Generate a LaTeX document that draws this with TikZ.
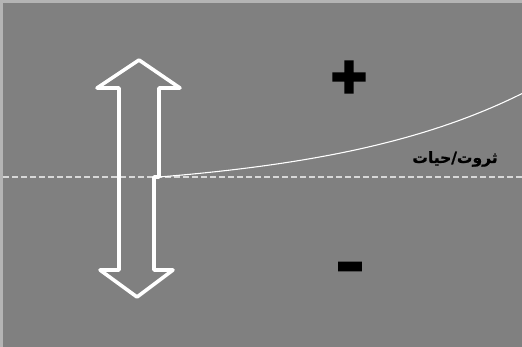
\documentclass[tikz,border=0pt]{standalone}
\usepackage{fontspec}
\newfontfamily\arabicfont[Script=Arabic,FakeBold=1]{DejaVu Sans}
\newfontfamily\plusfont[FakeBold=8]{DejaVu Sans}
\newfontfamily\minusfont[FakeBold=6]{DejaVu Sans}
\TeXXeTstate=1
\definecolor{panel}{HTML}{808080}
\definecolor{rim}{HTML}{B4B4B4}
\definecolor{dashline}{HTML}{D8D8D8}
\begin{document}
\begin{tikzpicture}[x=1pt,y=-1pt,
  arrowoutline/.style={draw=white,line width=3.6pt,line join=round},
  baseline/.style={draw=dashline,line width=1.1pt,dash pattern=on 6pt off 3pt},
  growth/.style={draw=white,line width=1.1pt},
  sign/.style={text=black,inner sep=0pt},
  caption/.style={font=\arabicfont\bfseries\fontsize{15.5}{17}\selectfont,text=black,inner sep=0pt}]
  % canvas with a light rim on the top and left edges
  \fill[rim] (0,0) rectangle (522,347);
  \useasboundingbox (0,0) rectangle (522,347);
  \fill[panel] (3,3) rectangle (522,347);

  % zero line
  \coordinate (zl) at (3,177);
  \coordinate (zr) at (522,177);
  \draw[baseline] (zl) -- (zr);

  % double-headed arrow
  \draw[arrowoutline]
    (119,270) -- (119,88) -- (97,88) -- (139,60) -- (180,88) -- (159,88)
    -- (159,177) coordinate (start) -- (154,177) -- (154,270) -- (173,270)
    -- (137,297) -- (100,270) -- cycle;

  % exponential growth curve
  \draw[growth] (start) -- plot[domain=159:522,samples=60,smooth]
    (\x,{177-16.2*(exp(0.005*(\x-159))-1)});

  % labels
  \node[sign,font=\plusfont\bfseries\fontsize{47}{47}\selectfont] (plus) at (349,77) {+};
  \node[sign,font=\minusfont\bfseries\fontsize{52}{52}\selectfont] (minus) at (350,272) {–};
  \node[caption] (label) at (455,159) {\beginR ثروت/حیات\endR};
\end{tikzpicture}
\end{document}
